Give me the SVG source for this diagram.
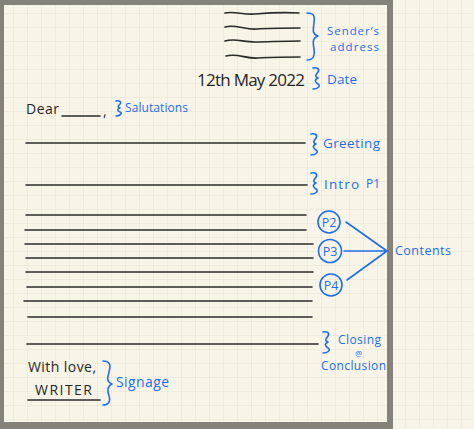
<svg xmlns="http://www.w3.org/2000/svg" width="474" height="429" viewBox="0 0 474 429">
<style>
.ink{stroke:#2b2b2b;stroke-width:1.6;fill:none;stroke-linecap:round}
.blue{stroke:#1f6ee8;stroke-width:1.6;fill:none;stroke-linecap:round;stroke-linejoin:round}
.t{font-family:"Open Sans","Liberation Sans",sans-serif;fill:#262626}
.b{font-family:"Open Sans","Liberation Sans",sans-serif;fill:#1f6ee8}
</style>
<defs>
<pattern id="grid" width="14" height="14" patternUnits="userSpaceOnUse">
<path d="M14 0V14M0 14H14" stroke="#e8e3d2" stroke-width="1" fill="none"/>
</pattern>
</defs>
<rect width="474" height="429" fill="#f8f5e8"/>
<rect width="474" height="429" fill="url(#grid)"/>
<g id="page-frame">
<path d="M0 0H390V429H0Z M4 5V422H387V5Z" fill="#85827a" fill-rule="evenodd"/>
<rect x="387" y="0" width="6" height="429" fill="#85827a"/>
</g>
<g id="sender-address">
<path class="ink" d="M225 13c10-2 18 2 30 1s25-2 44-1"/>
<path class="ink" d="M225 27c10-3 20 3 32 2s25-1 43-1"/>
<path class="ink" d="M225 41c10-3 18 1 30 1s28-1 45-1"/>
<path class="ink" d="M226 56c12-3 20 3 32 2s25-1 42-1"/>
<path class="blue" d="M307 13c7 0 8 3 7 10s-2 11 4 13c-6 2-5 7-4 13s0 11-7 11"/>
<text class="b" x="327" y="35" font-size="11.5" textLength="52">Sender’s</text>
<text class="b" x="330" y="51" font-size="11.5" textLength="49">address</text>
</g>
<g id="date">
<text class="t" x="197" y="86" font-size="17" textLength="108">12th May 2022</text>
<path class="blue" d="M313 68c4-1 7 1 5 4s-4 4 0 6c-4 2-3 4 0 6s0 5-5 5"/>
<text class="b" x="327" y="84" font-size="13.5" textLength="30">Date</text>
</g>
<g id="salutation">
<text class="t" x="26" y="114" font-size="14" textLength="33">Dear</text>
<path class="ink" d="M62 116H100"/>
<text class="t" x="103" y="116" font-size="14">,</text>
<path class="blue" d="M116 101c3-1 6 1 4 3s-3 3 0 4c-3 1-3 3 0 4s0 4-4 4"/>
<text class="b" x="125" y="112" font-size="12" textLength="63">Salutations</text>
</g>
<g id="greeting">
<path class="ink" d="M26 143H305"/>
<path class="blue" d="M311 134c4-1 7 1 5 4s-4 4 0 6c-4 2-3 4 0 6s0 5-5 5"/>
<text class="b" x="323" y="148" font-size="13.5" textLength="57">Greeting</text>
</g>
<g id="intro">
<path class="ink" d="M26 185H307"/>
<path class="blue" d="M311 173c4-1 7 1 5 4s-4 4 0 6c-4 2-3 4 0 6s0 5-5 5"/>
<text class="b" x="324" y="189" font-size="13.5" textLength="35">Intro</text>
<text class="b" x="366" y="188" font-size="12">P1</text>
</g>
<g id="content-lines">
<path class="ink" d="M26 215H306M25 230H306M25 244H313M26 258H313M26 272H313M27 287H312M24 301H312M28 317H312"/>
</g>
<g id="p2">
<circle class="blue" cx="329" cy="222" r="11"/>
<text class="b" x="329" y="227" font-size="12.5" text-anchor="middle">P2</text>
</g>
<g id="p3">
<circle class="blue" cx="330" cy="251" r="11.5"/>
<text class="b" x="330" y="256" font-size="12.5" text-anchor="middle">P3</text>
</g>
<g id="p4">
<circle class="blue" cx="331" cy="285" r="11"/>
<text class="b" x="331" y="290" font-size="12.5" text-anchor="middle">P4</text>
</g>
<g id="connectors">
<path class="blue" d="M346 222L387 251M344 251H387M347 280L387 251"/>
</g>
<g id="contents">
<text class="b" x="395" y="255" font-size="12.5" textLength="56">Contents</text>
</g>
<g id="closing">
<path class="ink" d="M27 344H318"/>
<path class="blue" d="M323 332c4-1 7 1 5 4s-4 4 0 6c-4 2-3 4 0 6s0 5-5 5"/>
<text class="b" x="338" y="344" font-size="12" textLength="43">Closing</text>
<text class="b" x="355" y="356" font-size="8">@</text>
<text class="b" x="321" y="370" font-size="12" textLength="65">Conclusion</text>
</g>
<g id="signage">
<text class="t" x="28" y="372" font-size="14" textLength="68">With love,</text>
<text class="t" x="35" y="395" font-size="14" textLength="57">WRITER</text>
<path class="ink" d="M28 400H100"/>
<path class="blue" d="M103 361c7 0 8 4 6 11s-2 10 3 12c-5 2-5 6-3 12s-1 9-6 9"/>
<text class="b" x="116" y="387" font-size="14" textLength="53">Signage</text>
</g>
</svg>
